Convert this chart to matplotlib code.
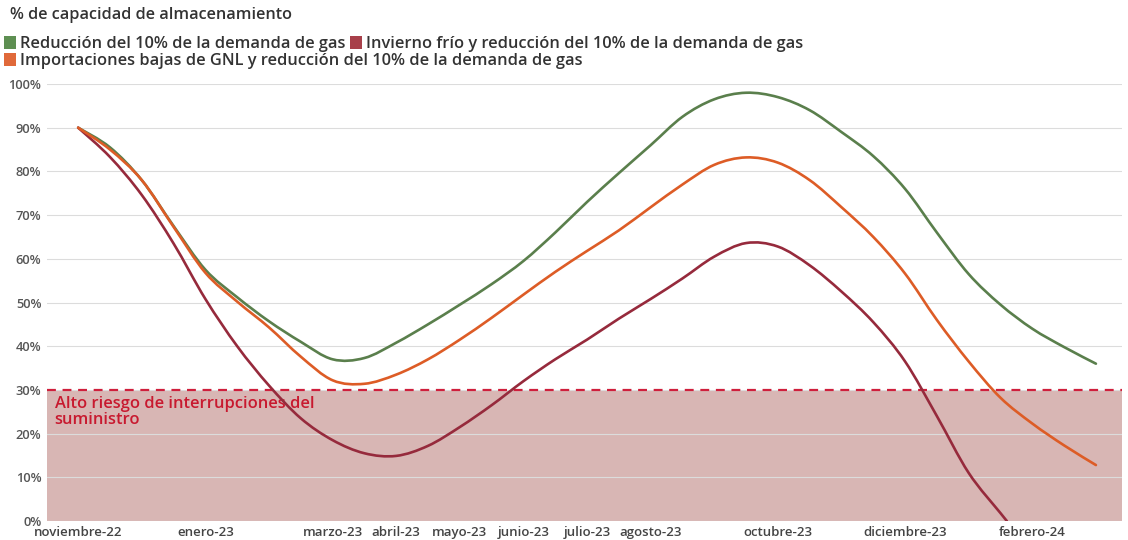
import matplotlib
matplotlib.use("Agg")
import matplotlib.pyplot as plt
from matplotlib.patches import Patch, PathPatch
from matplotlib.path import Path

# months since noviembre-22, half-month steps
months = [k * 0.5 for k in range(33)]

reduccion = [90, 85.5, 78, 67.5, 57.5, 51.2, 45.7, 41, 37, 37.3, 40.8, 45, 49.5, 54.2, 59.5,
             66, 73, 79.6, 86, 92.5, 96.5, 98, 97, 94, 89, 83.5, 76, 66, 56.5, 49.5,
             44, 39.8, 36]
importaciones = [90, 85, 78, 67.3, 56.8, 50.2, 44.3, 37.6, 32.2, 31.4, 33.5, 37, 41.5, 46.5, 51.8,
                 57, 61.8, 66.5, 71.8, 77, 81.5, 83.2, 82, 78, 71.8, 65, 56.6, 46, 36.5, 28.2,
                 22.3, 17.3, 12.8]
months_frio = [k * 0.5 for k in range(30)] + [14.6]
invierno_frio = [90, 83.3, 74.6, 63.5, 50.8, 40, 31, 23.5, 18.5, 15.5, 14.9, 17.2, 21.5, 26.5, 32,
                 37, 41.5, 46.3, 50.8, 55.5, 60.5, 63.6, 62.8, 58.5, 52.5, 45.5, 36.5, 24, 11,
                 1.8, 0]

tick_pos = [0, 2, 4, 5, 6, 7, 8, 9, 11, 13, 15]
tick_labels = ["noviembre-22", "enero-23", "marzo-23", "abril-23", "mayo-23", "junio-23",
               "julio-23", "agosto-23", "octubre-23", "diciembre-23", "febrero-24"]

umbral = 30

c_green = "#5a7f4c"
c_red = "#962a3c"
c_orange = "#dd5c26"
plt.rcParams['font.family'] = ['Open Sans', 'DejaVu Sans']


def spline(ax, xs, ys, color, z):
    # smooth curve through the points (catmull-rom as bezier segments)
    n = len(xs)
    verts = [(xs[0], ys[0])]
    codes = [Path.MOVETO]
    for i in range(n - 1):
        i0, i2 = max(i - 1, 0), min(i + 2, n - 1)
        c1 = (xs[i] + (xs[i + 1] - xs[i0]) / 6, ys[i] + (ys[i + 1] - ys[i0]) / 6)
        c2 = (xs[i + 1] - (xs[i2] - xs[i]) / 6, ys[i + 1] - (ys[i2] - ys[i]) / 6)
        verts += [c1, c2, (xs[i + 1], ys[i + 1])]
        codes += [Path.CURVE4] * 3
    ax.add_patch(PathPatch(Path(verts, codes), fill=False, edgecolor=color, lw=1.9,
                           capstyle="round", zorder=z, transform=ax.transData))


fig = plt.figure(figsize=(11.28, 5.4), dpi=100)
ax = fig.add_axes([47 / 1128, 19 / 540, 1075 / 1128, 437 / 540])

ax.axhspan(0, umbral, color="#d8b6b4", zorder=0, lw=0)
ax.axhline(umbral, color="#cf1f3c", lw=1.6, ls=(0, (4, 3)), zorder=2)
ax.text(-0.37, 28.7, "Alto riesgo de interrupciones del\nsuministro", color="#c8192f",
        fontsize=11.9, fontweight="semibold", va="top", ha="left", linespacing=1.0,
        zorder=1)

spline(ax, months, reduccion, c_green, 3)
spline(ax, months_frio, invierno_frio, c_red, 3)
spline(ax, months, importaciones, c_orange, 4)

ax.set_xlim(-0.49, 16.41)
ax.set_ylim(0, 100)
ax.set_yticks(range(0, 101, 10))
ax.set_yticklabels([f"{v}%" for v in range(0, 101, 10)])
ax.set_xticks(tick_pos)
ax.set_xticklabels(tick_labels)
ax.grid(axis="y", color="#dcdcdc", lw=0.8, zorder=1)
ax.set_axisbelow(True)
for s in ax.spines.values():
    s.set_visible(False)
ax.tick_params(length=0)
ax.tick_params(axis="y", pad=4, labelsize=9.3, labelcolor="#555555")
ax.tick_params(axis="x", pad=3.5, labelsize=9.5, labelcolor="#444444")
for lab in ax.get_xticklabels() + ax.get_yticklabels():
    lab.set_fontweight("semibold")

fig.text(10 / 1128, 1 - 15 / 540, "% de capacidad de almacenamiento", fontsize=11.7,
         fontweight="semibold", color="#333333", va="center", ha="left")

h1 = [Patch(facecolor="#5e8f52", label="Reducción del 10% de la demanda de gas"),
      Patch(facecolor="#a8404a", label="Invierno frío y reducción del 10% de la demanda de gas")]
h2 = [Patch(facecolor="#e0693a", label="Importaciones bajas de GNL y reducción del 10% de la demanda de gas")]
leg_kw = dict(loc="upper left", frameon=False, handlelength=0.75, handleheight=0.85,
              handletextpad=0.2, columnspacing=0.3, borderaxespad=0, borderpad=0,
              prop={"size": 11.8, "weight": "semibold"}, labelcolor="#333333")
fig.legend(handles=h1, ncol=2, bbox_to_anchor=(4 / 1128, 1 - 36 / 540), **leg_kw)
fig.legend(handles=h2, ncol=1, bbox_to_anchor=(4 / 1128, 1 - 53 / 540), **leg_kw)

fig.savefig("out.png", dpi=100)
